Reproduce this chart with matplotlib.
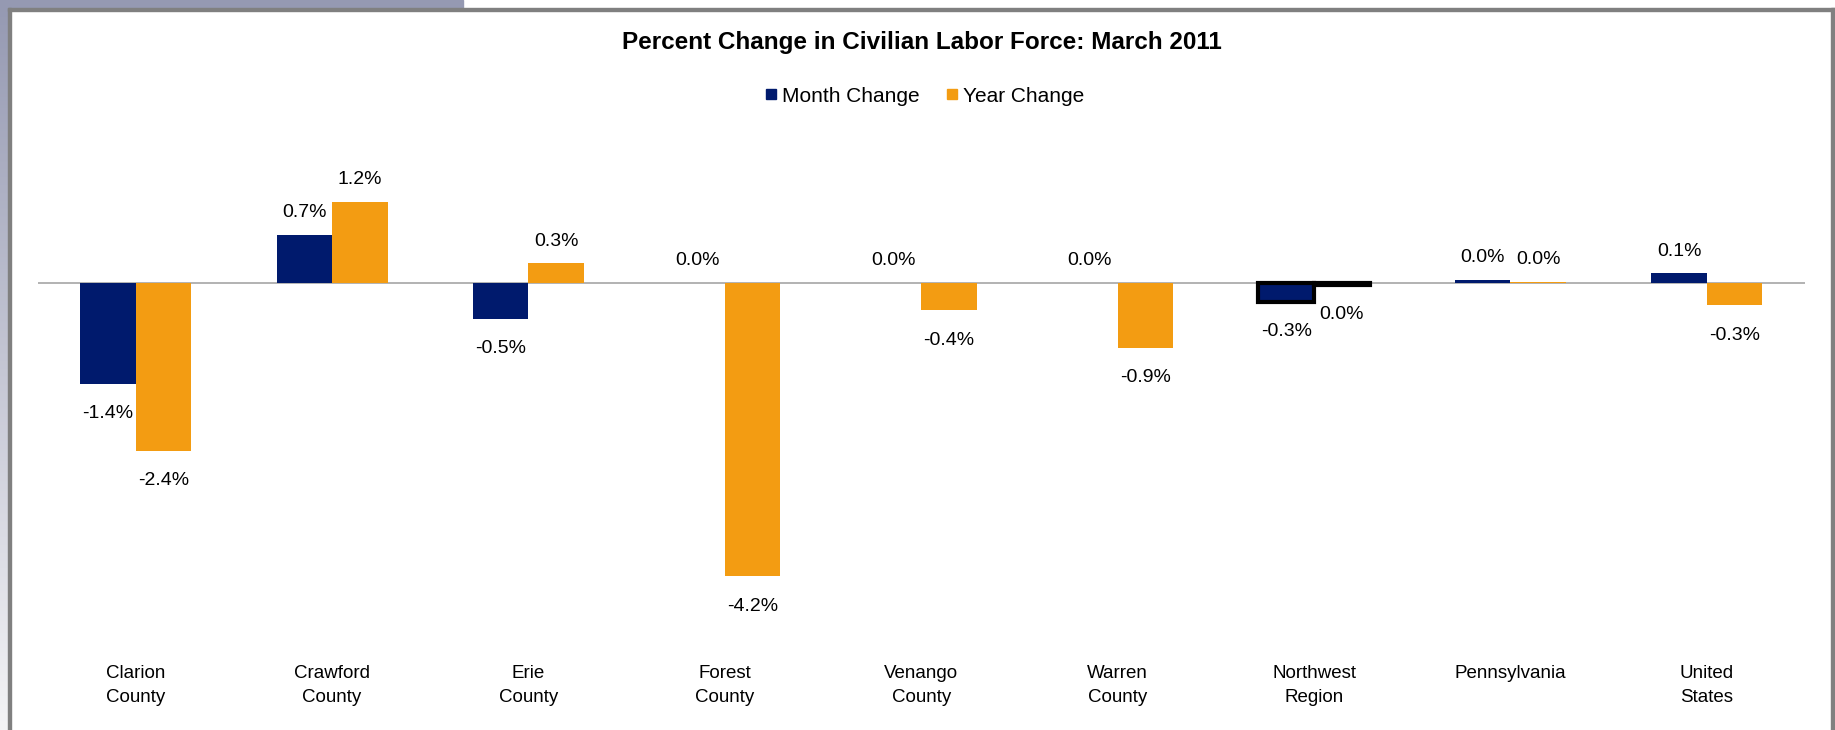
import numpy as np
import matplotlib
matplotlib.use("Agg")
import matplotlib.pyplot as plt
from matplotlib.patches import Rectangle
from matplotlib.lines import Line2D

plt.rcParams['font.family'] = ['Liberation Sans', 'DejaVu Sans']

categories = ["Clarion\nCounty", "Crawford\nCounty", "Erie\nCounty", "Forest\nCounty",
              "Venango\nCounty", "Warren\nCounty", "Northwest\nRegion", "Pennsylvania",
              "United\nStates"]
month_change = [-1.44, 0.69, -0.51, 0.0, 0.0, 0.0, -0.27, 0.04, 0.14]
year_change = [-2.40, 1.16, 0.28, -4.20, -0.39, -0.93, -0.03, 0.02, -0.32]

NAVY = "#001A6D"
ORANGE = "#F39C12"

W, H = 1835, 730
fig = plt.figure(figsize=(W / 100, H / 100), dpi=100)
fig.patch.set_facecolor("white")

# plot area in pixel terms
zero_px, px_per_pct = 283, 69.8
top_px, bot_px = 150, 640
left_px, right_px = 37.5, 1805
ax = fig.add_axes([left_px / W, 1 - bot_px / H, (right_px - left_px) / W, (bot_px - top_px) / H])
ax.set_xlim(-0.5, len(categories) - 0.5)
ax.set_ylim(-(bot_px - zero_px) / px_per_pct, (zero_px - top_px) / px_per_pct)
for s in ax.spines.values():
    s.set_visible(False)
ax.set_yticks([])

x = np.arange(len(categories))
bw = 0.283
b1 = ax.bar(x - bw / 2, month_change, bw, color=NAVY, zorder=2)
b2 = ax.bar(x + bw / 2, year_change, bw, color=ORANGE, zorder=2)
# Northwest Region bars are drawn selected (black outline) in the original
for b in (b1[6], b2[6]):
    b.set_edgecolor("black")
    b.set_linewidth(3)
    b.set_zorder(3)

ax.axhline(0, color="#A6A6A6", lw=1.2, zorder=1)


def lab(v):
    s = f"{v:.1f}%"
    return "0.0%" if s == "-0.0%" else s


for bars, vals in ((b1, month_change), (b2, year_change)):
    for b, v in zip(bars, vals):
        cx = b.get_x() + b.get_width() / 2
        off = 16 if v >= 0 else -21.5
        ax.annotate(lab(v), (cx, v), xytext=(0, off), textcoords="offset points",
                    ha="center", va="center", fontsize=14, color="#000000")

ax.set_xticks(x)
ax.set_xticklabels(categories, fontsize=13.5, linespacing=1.55)
ax.tick_params(axis="x", length=0, pad=18)

fig.text(921.5 / W, 1 - 43 / H, "Percent Change in Civilian Labor Force: March 2011",
         ha="center", va="center", fontsize=17.5, fontweight="bold")

handles = [Line2D([], [], ls="none", marker="s", ms=6.5, color=NAVY),
           Line2D([], [], ls="none", marker="s", ms=6.5, color=ORANGE)]
fig.legend(handles, ["Month Change", "Year Change"], loc="center", ncol=2,
           bbox_to_anchor=(925 / W, 1 - 96 / H), frameon=False, fontsize=15,
           handlelength=0.5, handletextpad=0.3, columnspacing=1.3)

# window frame around the chart
grad = fig.add_axes([0, 0, 7.5 / W, 1])
grad.imshow(np.linspace(0, 1, 256).reshape(-1, 1), aspect="auto",
            cmap=matplotlib.colors.LinearSegmentedColormap.from_list("g", ["#9599B2", "#F4F4F6"]))
grad.axis("off")
fig.patches.append(Rectangle((0, 1 - 7.5 / H), 463 / W, 7.5 / H, transform=fig.transFigure,
                             color="#9599B2", zorder=5))
fig.patches.append(Rectangle((7.5 / W, 1 - 11 / H), 1 - 7.5 / W, 3.5 / H, transform=fig.transFigure,
                             color="#808080", zorder=5))
fig.patches.append(Rectangle((7.5 / W, 0), 3.5 / W, 1 - 7.5 / H, transform=fig.transFigure,
                             color="#808080", zorder=5))
fig.patches.append(Rectangle((1831 / W, 0), 4 / W, 1 - 7.5 / H, transform=fig.transFigure,
                             color="#808080", zorder=5))

fig.savefig("out.png", dpi=100)
